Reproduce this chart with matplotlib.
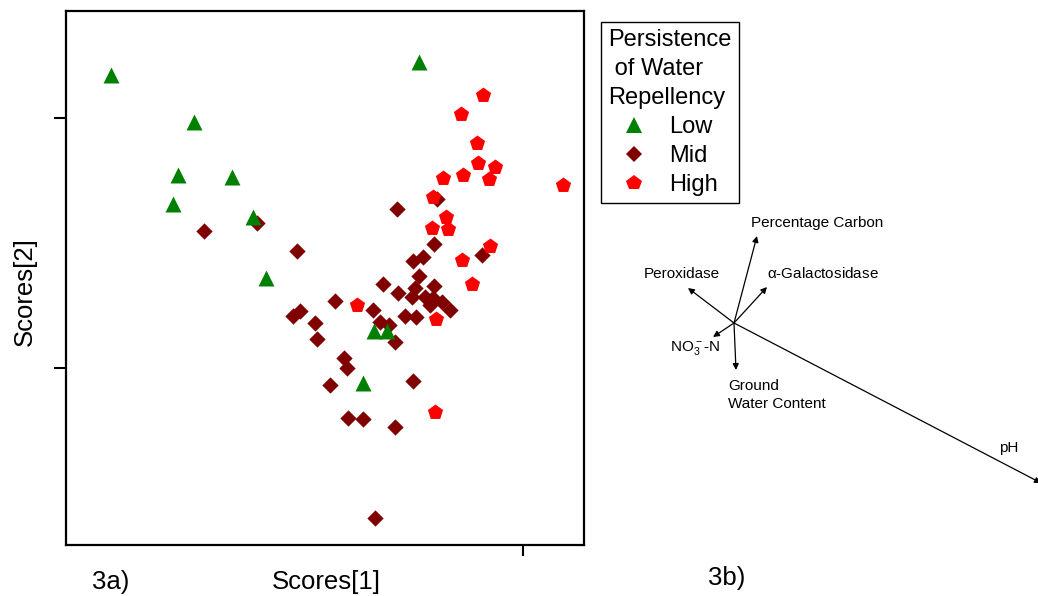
import matplotlib
matplotlib.use("Agg")
import matplotlib.pyplot as plt
from matplotlib.lines import Line2D

plt.rcParams['font.family'] = ['Liberation Sans', 'DejaVu Sans']
plt.rcParams['mathtext.default'] = 'regular'

# ---------------- data: PCA scores (panel 3a) ----------------
low_x = [-4.12, -3.29, -3.45, -2.91, -3.50, -2.70, -2.57, -1.04, -1.49, -1.36, -1.60]
low_y = [1.68, 1.21, 0.68, 0.66, 0.39, 0.26, -0.35, 1.81, -0.88, -0.88, -1.40]

mid_x = [-3.19, -2.66, -2.26, -1.26, -0.86, -0.89, -1.10, -1.00, -0.41, -1.04,
         -1.40, -0.89, -1.25, -1.08, -1.11, -0.98, -0.90, -0.81, -0.73, -0.93,
         -1.50, -1.18, -1.07, -1.43, -1.34, -1.28, -1.88, -2.23, -2.30, -2.08,
         -2.06, -1.79, -1.76, -1.93, -1.10, -1.75, -1.60, -1.28, -1.48]
mid_y = [0.12, 0.20, -0.08, 0.34, 0.44, -0.01, -0.18, -0.14, -0.12, -0.33,
         -0.41, -0.43, -0.50, -0.45, -0.54, -0.54, -0.55, -0.59, -0.67, -0.62,
         -0.67, -0.73, -0.74, -0.79, -0.82, -0.99, -0.58, -0.68, -0.73, -0.80,
         -0.96, -1.15, -1.25, -1.42, -1.38, -1.75, -1.76, -1.84, -2.75]

high_x = [-0.40, -0.62, -0.46, -0.45, -0.28, -0.80, -0.60, -0.34, 0.40, -0.90,
          -0.77, -0.75, -0.91, -0.33, -0.61, -0.51, -1.66, -0.87, -0.88]
high_y = [1.48, 1.29, 1.00, 0.80, 0.76, 0.65, 0.68, 0.64, 0.58, 0.46,
          0.26, 0.14, 0.15, -0.03, -0.17, -0.41, -0.62, -0.76, -1.69]

group_labels = ['Low', 'Mid', 'High']
legend_title = 'Persistence\n of Water\nRepellency'

# ---------------- data: loadings (panel 3b) ----------------
load_names = ['Percentage Carbon', r'$\alpha$-Galactosidase', 'Peroxidase',
              r'NO$_3^-$-N', 'Ground\nWater Content', 'pH']
load_dx = [0.23, 0.33, -0.46, -0.21, 0.02, 3.07]
load_dy = [0.87, 0.36, 0.35, -0.14, -0.47, -1.60]

# ---------------- figure ----------------
W, H = 1038, 596
fig = plt.figure(figsize=(W / 100, H / 100), dpi=100)

def fx(px):
    return px / W

def fy(py):
    return 1 - py / H

ax = fig.add_axes([fx(66), fy(545), fx(584) - fx(66), fy(11) - fy(545)])
ax.scatter(low_x, low_y, marker='^', s=11.5**2, color='#008000', linewidths=0, zorder=3)
ax.scatter(mid_x, mid_y, marker='D', s=8.3**2, color='#800000', linewidths=0, zorder=2)
ax.scatter(high_x, high_y, marker='p', s=11.5**2, color='#FF0000', linewidths=0, zorder=2.5)
ax.set_xlim(-4.57, 0.61)
ax.set_ylim(-3.02, 2.32)
ax.set_xticks([0])
ax.set_yticks([1.25, -1.25])
ax.set_xticklabels([])
ax.set_yticklabels([])
ax.tick_params(axis='y', direction='out', length=9, width=1.5)
ax.tick_params(axis='x', direction='out', length=8, width=1.5)
for sp in ax.spines.values():
    sp.set_linewidth(1.6)
    sp.set_color('black')

handles = [
    Line2D([], [], marker='^', ls='none', ms=11, color='#008000', mew=0),
    Line2D([], [], marker='D', ls='none', ms=8.3, color='#800000', mew=0),
    Line2D([], [], marker='p', ls='none', ms=11.5, color='#FF0000', mew=0),
]
leg = fig.legend(handles, group_labels, title=legend_title,
                 loc='upper left', bbox_to_anchor=(fx(601), fy(22)),
                 frameon=True, fancybox=False, edgecolor='black', framealpha=1,
                 fontsize=17, title_fontsize=17, labelspacing=0.29,
                 handlelength=2.2, handletextpad=0.38, borderpad=0.3,
                 borderaxespad=0, alignment='left')
leg.get_frame().set_linewidth(1.0)
leg.get_title().set_linespacing(1.42)

fig.text(fx(326), fy(582), 'Scores[1]', ha='center', va='center', fontsize=18.5)
fig.text(fx(25), fy(292), 'Scores[2]', ha='center', va='center', fontsize=18.5, rotation=90)
fig.text(fx(111), fy(582), '3a)', ha='center', va='center', fontsize=18.5)
fig.text(fx(727), fy(578), '3b)', ha='center', va='center', fontsize=18.5)

# ---------------- biplot ----------------
bx = fig.add_axes([fx(620), fy(500), fx(1038) - fx(620), fy(200) - fy(500)])
bx.set_xlim(-1.14, 3.04)
bx.set_ylim(-1.77, 1.23)
bx.axis('off')
for dx, dy in zip(load_dx, load_dy):
    bx.annotate('', xy=(dx, dy), xytext=(0, 0),
                arrowprops=dict(arrowstyle='-|>', lw=0.9, color='black',
                                mutation_scale=9, shrinkA=0, shrinkB=0),
                annotation_clip=False)

label_pos = [(0.83, 1.00, 'center'), (0.89, 0.49, 'center'), (-0.52, 0.49, 'center'),
             (-0.39, -0.25, 'center'), (-0.06, -0.72, 'left'), (2.75, -1.25, 'center')]
for name, (lx, ly, ha) in zip(load_names, label_pos):
    bx.text(lx, ly, name, ha=ha, va='center', fontsize=11, linespacing=1.45)

fig.savefig('out.png', dpi=100)
